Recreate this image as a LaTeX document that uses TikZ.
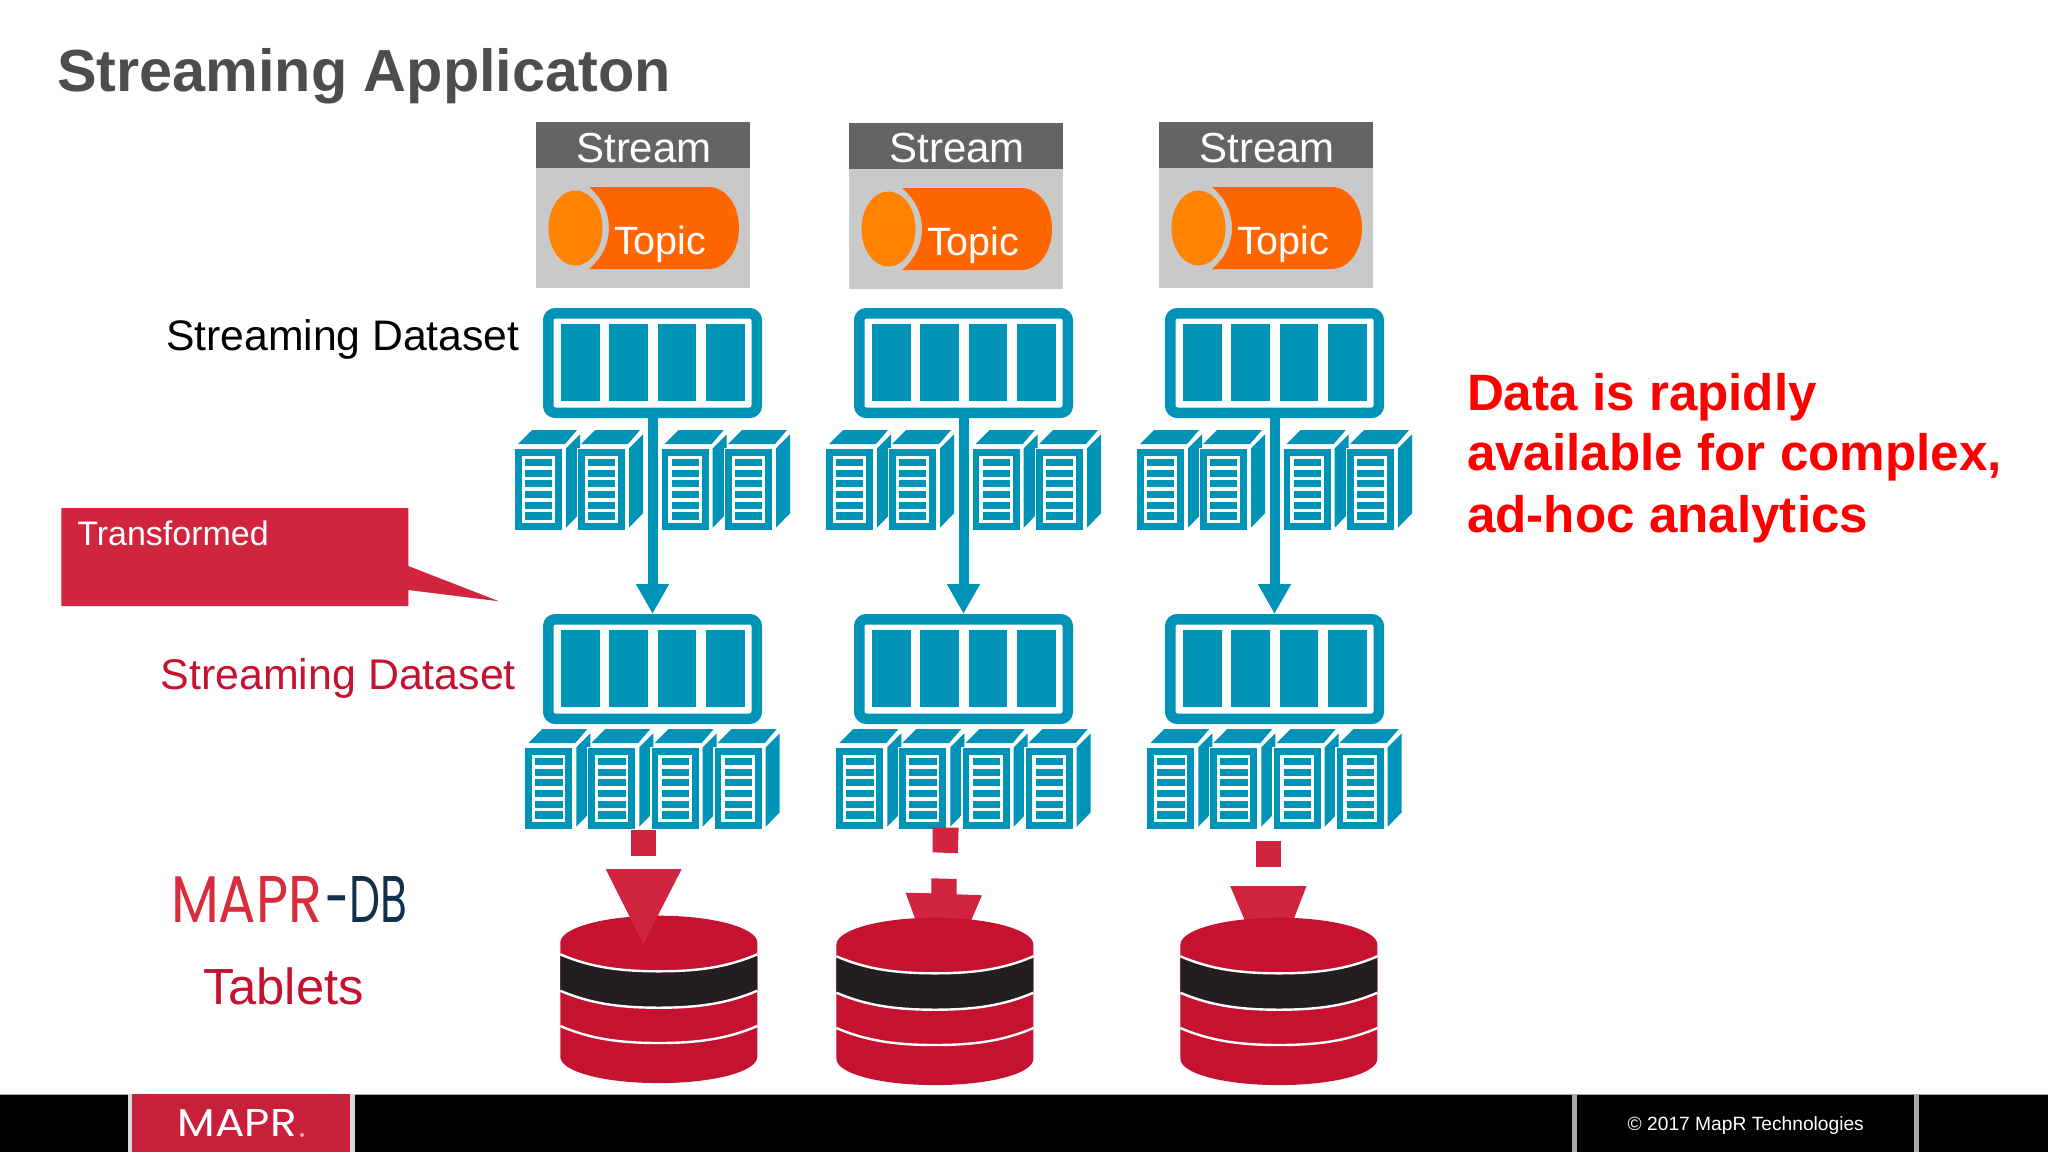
\documentclass[tikz,border=0pt]{standalone}
\usepackage{fontspec}
\usepackage{graphicx}
\setmainfont{Liberation Sans}
\newfontfamily\logofont{Poppins}
\usetikzlibrary{arrows.meta}
\definecolor{mblue}{HTML}{0093B8}
\definecolor{mhead}{HTML}{636466}
\definecolor{mgray}{HTML}{C9C9CA}
\definecolor{mbody}{HTML}{FF6600}
\definecolor{mcap}{HTML}{FF8200}
\definecolor{mred}{HTML}{C41230}
\definecolor{marrow}{HTML}{D1243F}
\definecolor{mblack}{HTML}{231F20}
\definecolor{mtitle}{HTML}{4D4D4F}
\definecolor{mnavy}{HTML}{12304A}
\definecolor{mlogo}{HTML}{DA2B3C}
\definecolor{mfoot}{HTML}{C8203A}
\definecolor{msep}{HTML}{A9A9AB}
\newcommand{\fs}[1]{\fontsize{#1}{#1}\selectfont}
\tikzset{
  lbl/.style={inner sep=0pt,outer sep=0pt,anchor=base west},
  lblc/.style={inner sep=0pt,outer sep=0pt,anchor=base},
  dsbox/.style={draw=mblue,fill=white,line width=10.5pt,rounded corners=7pt,minimum width=208.5pt,minimum height=99.5pt,inner sep=0pt,anchor=north west},
  flow/.style={draw=mblue,line width=10pt,-{Triangle[length=30pt,width=31pt]},shorten >=0pt},
  headbox/.style={fill=mhead,minimum width=214pt,minimum height=46pt,inner sep=0pt,anchor=north west},
}
% stream block: name, dx, dy
\newcommand{\streamblock}[3]{%
\begin{scope}[shift={(#2,#3)}]
  \fill[mgray] (536,168) rectangle (750,288);
  \node[headbox] (#1) at (536,122) {};
  \node[lblc,text=white] at (644,162) {\fs{42}Stream};
  \fill[mbody] (589,187) -- (708,187) .. controls (726,187) and (739,205) .. (739,228)
     .. controls (739,251) and (726,269) .. (708,269) -- (589,269)
     .. controls (602,258) and (609,244) .. (609,228) .. controls (609,212) and (602,198) .. (589,187) -- cycle;
  \fill[mcap] (575.5,228) ellipse [x radius=27,y radius=37.5];
  \node[lbl,text=white] at (614,254) {\fs{39.5}Topic};
\end{scope}}
% one server icon at (x,y)
\newcommand{\serverunit}[2]{%
\begin{scope}[shift={(#1,#2)}]
  \fill[mblue] (3,-5) -- (50,-5) -- (62,-19) -- (17,-19) -- cycle;
  \fill[mblue] (51,-0.7) -- (65,-14.7) -- (65,64.3) -- (51,78.7) -- cycle;
  \fill[white] (-1.5,-1.5) rectangle (48.5,81);
  \fill[mblue] (0,0) rectangle (47,81);
  \fill[white] (6.7,6.7) rectangle (40,74);
  \foreach \ya/\yb in {9.7/17,20.7/27.7,31.3/38.3,41.7/49,52.7/59.7,63.3/70.7}
    {\fill[mblue] (10,\ya) rectangle (37.3,\yb);}
\end{scope}}
% dataset box: name, x, y
\newcommand{\dataset}[3]{%
  \node[dsbox] (#1) at (#2,#3) {};
  \foreach \bx in {18,66,114.5,163}
    {\fill[mblue] (#2+\bx,#3+16) rectangle (#2+\bx+38.5,#3+93);}
}
% cylinder: x, y
\newcommand{\cylline}[1]{(0,#1) .. controls (30,#1+13) and (60,#1+17) .. (98.5,#1+17) .. controls (137,#1+17) and (167,#1+13) .. (197,#1)}
\newcommand{\tablet}[2]{%
\begin{scope}[shift={(#1,#2)}]
  \fill[mred] (0,27) .. controls (0,12.1) and (44.1,0) .. (98.5,0) .. controls (152.9,0) and (197,12.1) .. (197,27)
    -- (197,141) .. controls (197,156) and (152.9,167.4) .. (98.5,167.4) .. controls (44.1,167.4) and (0,156) .. (0,141) -- cycle;
  \fill[mblack] \cylline{38.6} -- (197,75) .. controls (167,88) and (137,92) .. (98.5,92) .. controls (60,92) and (30,88) .. (0,75) -- cycle;
  \draw[white,line width=2.4pt] \cylline{38.6};
  \draw[white,line width=2.4pt] \cylline{75};
  \draw[white,line width=2.4pt] \cylline{110.3};
\end{scope}}
\begin{document}
\begin{tikzpicture}[x=1pt,y=-1pt]
\useasboundingbox (0,0) rectangle (2048,1153);
\fill[white] (0,0) rectangle (2048,1153);
% title
\node[lbl,text=mtitle,font=\bfseries] (title) at (57,92) {\fs{59.4}Streaming Applicaton};
% streams
\streamblock{s1}{0}{0}
\streamblock{s2}{313}{1}
\streamblock{s3}{623}{0}
% upper servers, datasets, arrows, lower datasets, lower servers
\foreach \dx/\n in {0/1,311/2,622/3}{
  \foreach \o in {0,63,146.7,210}{\serverunit{515+\dx+\o}{449}}
  \foreach \o in {0,63,126.4,189.4}{\serverunit{525.3+\dx+\o}{748}}
  \dataset{ds\n}{543+\dx}{308}
  \dataset{ts\n}{543+\dx}{614}
  \draw[flow] (ds\n.south) -- (ts\n.north);
}
% labels
\node[lbl] (lab1) at (166,350.5) {\fs{42.7}Streaming Dataset};
\node[lbl,text=mred] (lab2) at (160.7,689) {\fs{42.9}Streaming Dataset};
% callout
\fill[marrow] (61.3,508) -- (408.3,508) -- (408.3,566) -- (499,601.3) -- (408.3,590) -- (408.3,606) -- (61.3,606) -- cycle;
\node[lbl,text=white] (call) at (77.3,545) {\fs{34}Transformed};
% right text
\node[lbl,text=red,font=\bfseries] (r1) at (1467,410) {\fs{51.2}Data is rapidly};
\node[lbl,text=red,font=\bfseries] (r2) at (1467,470) {\fs{51.2}available for complex,};
\node[lbl,text=red,font=\bfseries] (r3) at (1467,532.5) {\fs{51.2}ad-hoc analytics};
% logo
\node[inner sep=0pt,outer sep=0pt,anchor=south west] (logo1) at (171,922) {\resizebox{151pt}{46pt}{\logofont\color{mlogo}MAPR}};
\node[inner sep=0pt,outer sep=0pt,anchor=west,text=mnavy] (logo2) at (325.7,899) {\resizebox{82pt}{46pt}{\logofont -DB}};
\node[lbl,text=mred] (tabl) at (203,1004.5) {\fs{50.8}Tablets};
% red squares and arrows column 2/3 behind cylinders
\fill[marrow] (630.7,830) rectangle (656.3,855.7);
\fill[marrow] (932.5,827.7) -- (958.6,827.7) -- (957.8,853.3) -- (932.5,852.3) -- cycle;
\fill[marrow] (931.3,878.3) -- (956.6,879) -- (956.6,894.3) -- (981.9,895.3) -- (969.2,925) -- (917.4,925) -- (905.6,892.7) -- (931.3,893.3) -- cycle;
\fill[marrow] (1255.5,841.3) rectangle (1281.2,867);
\fill[marrow] (1230.2,886) -- (1306.5,886) -- (1291.5,925) -- (1246.8,925) -- cycle;
% tablets
\tablet{560.3}{915.7}
\tablet{836.4}{917.7}
\tablet{1180.4}{917.7}
\fill[marrow] (605.7,869) -- (681.7,869) -- (643.3,944) -- cycle;
% footer
\fill[black] (0,1094.3) rectangle (2048,1152);
\fill[msep] (0,1093.6) rectangle (2048,1094.6);
\fill[white!85!black] (127.5,1094.3) rectangle (132,1152);
\fill[white!85!black] (350,1094.3) rectangle (355,1152);
\fill[mfoot] (132,1094.3) rectangle (350,1152);
\fill[msep] (1572,1094.3) rectangle (1576.7,1152);
\fill[msep] (1914,1094.3) rectangle (1919,1152);
\node[inner sep=0pt,outer sep=0pt,anchor=south west,text=white] (logo3) at (177.7,1136) {\resizebox{119pt}{27pt}{\logofont MAPR}};
\fill[white!60!mfoot] (302,1135) circle (2);
\node[lbl,text=white] (copy) at (1627.7,1130) {\fs{19.2}© 2017 MapR Technologies};
\end{tikzpicture}
\end{document}
